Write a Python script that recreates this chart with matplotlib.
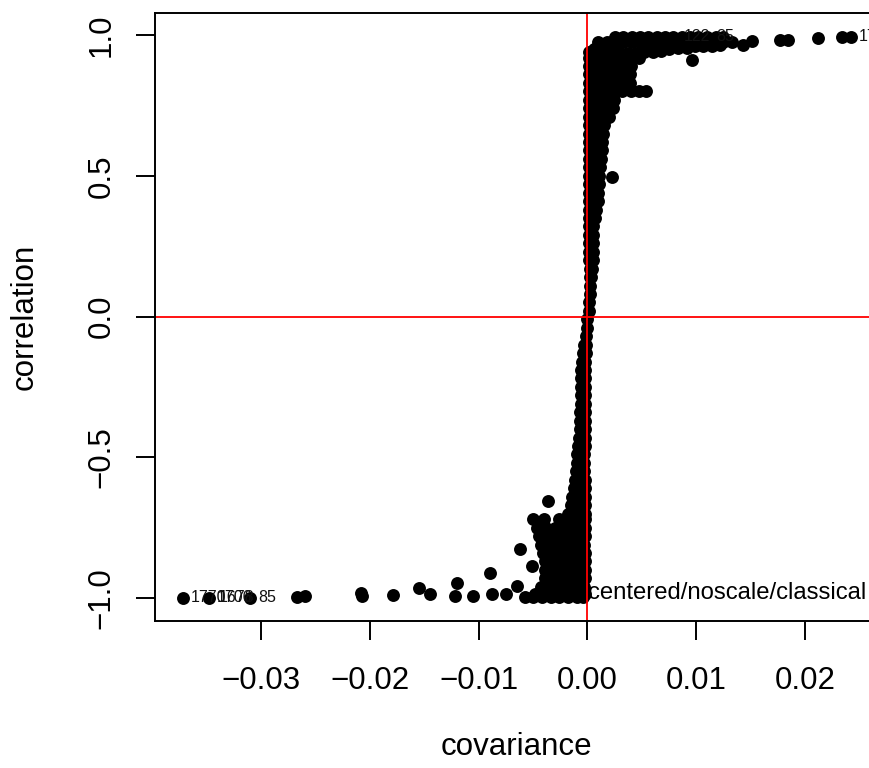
import numpy as np
import matplotlib.pyplot as plt

plt.rcParams['font.family'] = ['Liberation Sans', 'DejaVu Sans']

# ticks and labels
x_ticks = [-0.03, -0.02, -0.01, 0.00, 0.01, 0.02]
x_tick_labels = ['\u22120.03', '\u22120.02', '\u22120.01', '0.00', '0.01', '0.02']
y_ticks = [-1.0, -0.5, 0.0, 0.5, 1.0]
y_tick_labels = ['\u22121.0', '\u22120.5', '0.0', '0.5', '1.0']

# vertical band of points, one row per correlation level (covariance in units of 1e-3)
band_cor = [0.74, 0.71, 0.68, 0.65, 0.62, 0.59, 0.56, 0.53, 0.50, 0.47, 0.44, 0.41,
            0.38, 0.35, 0.32, 0.29, 0.26, 0.23, 0.20, 0.17, 0.14, 0.11, 0.08, 0.05,
            0.02, -0.01, -0.04, -0.07, -0.10, -0.13, -0.16, -0.19, -0.22, -0.25,
            -0.28, -0.31, -0.34, -0.37, -0.40, -0.43, -0.46, -0.49, -0.52, -0.55,
            -0.58, -0.61, -0.64, -0.67, -0.70]
band_cov = [[0.1, 0.85, 1.6, 2.3], [0.1, 0.8, 1.5, 2.0], [0.1, 0.8, 1.5], [0.1, 0.75, 1.4],
            [0.1, 0.7, 1.3], [0.1, 0.7, 1.3], [0.1, 0.65, 1.2], [0.1, 0.6, 1.15],
            [0.1, 0.6, 1.1], [0.1, 0.55, 1.05], [0.1, 0.5, 1.0], [0.1, 0.5, 0.95],
            [0.1, 0.8], [0.1, 0.7], [0.1, 0.55], [0.1, 0.5], [0.15, 0.5], [0.15, 0.55],
            [0.15, 0.5], [0.2, 0.45], [0.2, 0.35], [0.2], [0.2], [0.15],
            [0.1], [0.0], [-0.05], [-0.15], [-0.35, -0.1], [-0.4, -0.15], [-0.5, -0.2],
            [-0.6, -0.25], [-0.6, -0.25], [-0.6, -0.25],
            [-0.62, -0.25], [-0.62, -0.25], [-0.65, -0.25], [-0.68, -0.25], [-0.7, -0.25],
            [-0.75, -0.25], [-0.85, -0.27], [-0.92, -0.3], [-1.0, -0.3], [-1.1, -0.3],
            [-1.15, -0.55, -0.27], [-1.25, -0.65, -0.27], [-1.4, -0.8, -0.27],
            [-1.55, -0.9, -0.27], [-1.75, -1.0, -0.27]]

# dense blob near correlation -1
low_cor = [-0.72, -0.75, -0.78, -0.81, -0.84, -0.87, -0.90, -0.93, -0.96, -0.985, -0.998]
low_cov = [[-5.0, -4.0, -2.6, -1.8, -1.0, -0.27],
           [-4.6, -3.8, -3.0, -2.2, -1.4, -0.7, -0.27],
           [-4.45, -3.65, -2.85, -2.05, -1.25, -0.5, -0.2],
           [-4.25, -3.45, -2.65, -1.85, -1.05, -0.3],
           [-4.05, -3.25, -2.45, -1.65, -0.85, -0.2],
           [-3.9, -3.1, -2.3, -1.5, -0.7, -0.2],
           [-3.9, -3.1, -2.3, -1.5, -0.7, -0.2],
           [-3.95, -3.15, -2.35, -1.55, -0.75, -0.2],
           [-4.25, -3.45, -2.65, -1.85, -1.05, -0.3],
           [-4.8, -4.0, -3.2, -2.4, -1.6, -0.8, -0.2],
           [-5.7, -5.0, -4.2, -3.4, -2.6, -1.8, -1.0, -0.4]]

# dense blob near correlation +1
high_cor = [0.77, 0.80, 0.83, 0.86, 0.89, 0.92]
high_cov = [[0.1, 0.85, 1.6, 2.4],
            [0.1, 0.85, 1.6, 2.4, 3.2, 4.0, 4.7, 5.4],
            [0.1, 0.85, 1.6, 2.4, 3.2, 3.9],
            [0.1, 0.85, 1.6, 2.4, 3.2, 3.9],
            [0.1, 0.85, 1.6, 2.4, 3.2, 4.0],
            [0.1, 0.85, 1.6, 2.4, 3.2, 4.0, 4.7]]

# horizontal bar along correlation ~ 1
bar_low_cov = [0.1, 0.6, 1.35, 2.1, 2.9, 3.7, 4.45, 5.2, 6.0, 6.8, 7.5, 8.3, 9.1, 9.85, 10.6, 11.4, 12.2]
bar_low_cor = [0.94, 0.95, 0.95, 0.945, 0.94, 0.935, 0.935, 0.94, 0.94, 0.945, 0.95, 0.955,
               0.955, 0.96, 0.96, 0.962, 0.963]
bar_mid_cov = [1.0, 1.75, 2.5, 3.3, 4.05, 4.8, 5.6, 6.4, 7.1, 7.9, 8.7, 9.45, 10.2, 11.0, 11.8, 12.5, 13.3]
bar_mid_cor = [0.975] * len(bar_mid_cov)
bar_top_cov = [2.5, 3.3, 4.05, 4.8, 5.6, 6.4, 7.1, 7.9, 8.7, 9.45, 10.2, 11.0, 11.8, 12.5]
bar_top_cor = [0.993] * len(bar_top_cov)

# isolated points
tail_cov = [2.25, 9.6, 14.3, 15.1, 17.7, 18.4, 21.2, 23.4, 24.2,
            -37.2, -34.8, -31.0, -26.7, -26.0, -20.8, -20.7, -17.9, -15.5, -14.5,
            -12.0, -12.2, -10.5, -9.0, -8.8, -7.5, -6.2, -6.5, -5.1, -3.6]
tail_cor = [0.495, 0.911, 0.964, 0.979, 0.982, 0.982, 0.989, 0.993, 0.993,
            -1.0, -1.0, -1.0, -0.996, -0.993, -0.982, -0.993, -0.989, -0.964, -0.986,
            -0.947, -0.993, -0.993, -0.911, -0.986, -0.986, -0.826, -0.957, -0.886, -0.655]

# point labels
label_cov = [-37.2, -34.8, -34.6, -31.0, 8.1, 11.1, 24.2]
label_cor = [-1.0, -1.0, -1.0, -1.0, 0.995, 0.995, 0.993]
label_txt = ['1770', '1706', '1678', '85', '122', '85', '1749']


# сбор всех точек в два массива
def collect():
    cov, cor = [], []
    for rows_cor, rows_cov in [(band_cor, band_cov), (low_cor, low_cov), (high_cor, high_cov)]:
        for c, row in zip(rows_cor, rows_cov):
            cov += row
            cor += [c] * len(row)
    cov += bar_low_cov + bar_mid_cov + bar_top_cov + tail_cov
    cor += bar_low_cor + bar_mid_cor + bar_top_cor + tail_cor
    return np.array(cov) * 1e-3, np.array(cor)


cov, cor = collect()

fig = plt.figure(figsize=(8.7, 7.68), dpi=100)
ax = fig.add_axes([155 / 870, 147.5 / 768, 723 / 870, 608 / 768])

ax.plot(cov, cor, 'o', color='black', markersize=9.3, markeredgewidth=0, linestyle='none')

for x, y, t in zip(label_cov, label_cor, label_txt):
    ax.annotate(t, (x * 1e-3, y), xytext=(5.8, 0), textcoords='offset points',
                ha='left', va='center', fontsize=11.5, color='#111111', clip_on=True)

ax.text(0.00002, -1.0046, 'centered/noscale/classical', ha='left', va='baseline', fontsize=17.2)

ax.axhline(0, color='red', linewidth=1.3)
ax.axvline(0, color='red', linewidth=1.3)

ax.set_xlim(-0.03975, 0.0267)
ax.set_ylim(-1.08, 1.08)
ax.set_xticks(x_ticks)
ax.set_xticklabels(x_tick_labels, fontsize=22.5)
ax.set_yticks(y_ticks)
ax.set_yticklabels(y_tick_labels, fontsize=22.5, rotation=90, va='center')
ax.tick_params(axis='both', direction='out', length=13.7, width=1.4)
ax.tick_params(axis='x', pad=19)
ax.tick_params(axis='y', pad=14)
for s in ax.spines.values():
    s.set_linewidth(1.4)

fig.text(516.5 / 870, (768 - 755) / 768, 'covariance', ha='center', va='baseline', fontsize=22.5)
fig.text(33 / 870, (768 - 316.5) / 768, 'correlation', ha='center', va='baseline',
         rotation=90, rotation_mode='anchor', fontsize=22.5)

fig.savefig('out.png', dpi=100)
